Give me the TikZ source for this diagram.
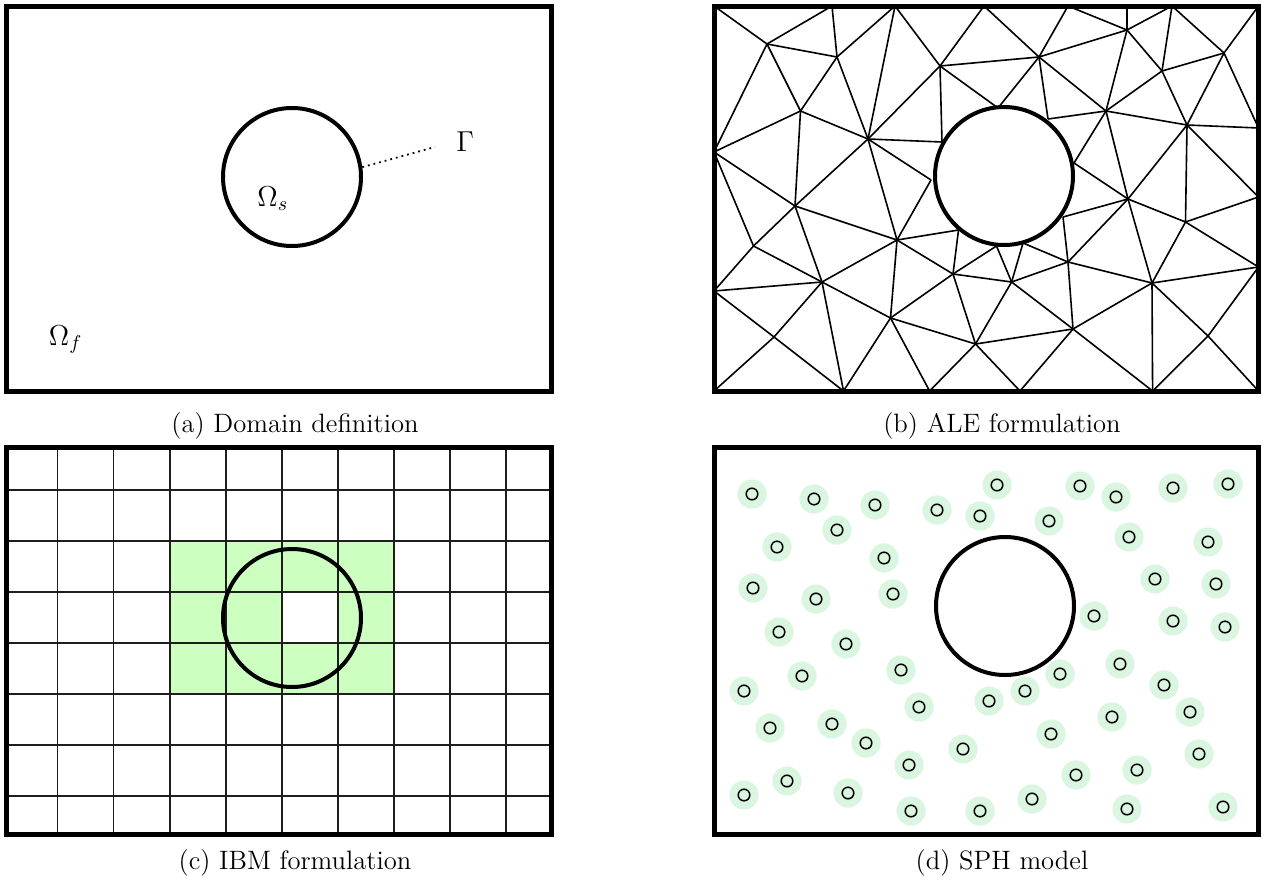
\documentclass[tikz,border=0pt]{standalone}
\usepackage{tikz}
\usetikzlibrary{calc}
\usepackage{amsmath}
\usepackage{xcolor}
\definecolor{ibmgreen}{HTML}{CCFFC0}
\definecolor{sphhalo}{HTML}{DAF6E0}
\definecolor{gridgray}{HTML}{1E1E1E}

\begin{document}
\begin{tikzpicture}[x=0.5pt, y=-0.5pt,
    domainbox/.style={draw=black, line width=2.5pt},
    solidbody/.style={circle, draw=black, line width=2pt, fill=white, minimum size=69pt, inner sep=0pt},
    meshline/.style={line width=0.8pt},
    gridline/.style={line width=0.9pt, color=gridgray},
    particle/.style={circle, draw=black, line width=0.75pt, minimum size=5.8pt, inner sep=0pt},
    subcap/.style={font=\fontsize{13.3}{16}\selectfont, anchor=base},
    symb/.style={font=\fontsize{14}{17}\selectfont, anchor=base west, inner sep=0pt}]
  \useasboundingbox (0,0) rectangle (1264,884);

  % (a)
  \draw[domainbox] (6,6) rectangle (551,391);
  \node[solidbody] (solida) at (292,177) {};
  \node[symb] (omegas) at (257,206.5) {$\Omega_s$};
  \node[symb] (omegaf) at (48.5,345) {$\Omega_f$};
  \node[symb] (gamma) at (456,151.5) {$\Gamma$};
  \coordinate (gtip) at (435,147);
  \draw[dotted, line width=0.9pt] (solida.8) -- (gtip);
  \node[subcap] (capa) at (295,432) {(a) Domain definition};

  % (b)
  \foreach \n/\x/\y in {TL/714/6, T1/832/6, T2/895/6, T3/984/6, T4/1068/6, T5/1127/6, T6/1172/6, TR/1258.5/6,
      M/714/152, LB/714/291, BL/714/391, B1/843.5/391, B2/929.6/391, B3/1020/391, B4/1152.6/391, BR/1258.5/391,
      L/1258.5/128, RBa/1258.5/197, RBb/1258.5/267,
      A/767/44, B/837/57, C/800.5/111, D/868/139, E/940/66, F/1039/57, G/1127/30, H/1162/71, I/1224/53,
      J/1106/111, K/1187/125, S/1128/199, U/795/206, X/753.5/246, W/897/240, Y/822/282, Z/953/274,
      AA/1011.6/282, BB/1068/262, V/1185.5/222, DD/1152/283, EE/890.5/318, FF/975.5/344, GG/1073/329,
      HH/774/337, II/1208/336,
      O/998/108, N/1048/119, R/1074/163, CC/1063/217, sthree/1023/243, stwo/996.5/246, sone/958.5/230,
      Q/931/180, P/942/142}
    \coordinate (\n) at (\x,\y);
  \foreach \a/\b in {TL/A, T1/A, T1/B, A/B, T2/B, T2/D, T2/E, A/C, A/M, B/C, B/D, C/M, C/D, C/U,
      T3/E, T3/F, E/F, E/D, E/P, E/O, F/O, T4/F, F/G, F/N, F/J, T4/G, G/T5, G/T6, G/H, G/J,
      T6/H, T6/I, I/TR, I/H, I/K, I/L, H/J, H/K, J/K, K/L, J/N, J/R, J/S, K/V, K/S, K/RBa,
      D/P, D/Q, D/U, D/W, M/X, M/U, X/U, X/LB, X/Y, U/Y, U/W, Q/W, W/sone, W/Y, W/Z, W/EE,
      sone/Z, stwo/Z, stwo/AA, sthree/AA, sthree/BB, CC/BB, CC/S, S/BB, S/DD, S/V, R/S,
      V/RBa, V/RBb, V/DD, BB/DD, BB/GG, BB/AA, Z/AA, Z/EE, Z/FF, AA/FF, AA/GG, DD/GG,
      DD/RBb, DD/B4, DD/II, RBb/II, II/B4, II/BR, Y/LB, Y/EE, Y/B1, Y/HH, LB/HH, HH/B1, HH/BL,
      EE/B1, EE/B2, EE/FF, FF/B2, FF/B3, GG/B3, GG/B4, GG/FF}
    \draw[meshline] (\a) -- (\b);
  \draw[domainbox] (714,6) rectangle (1258.5,391);
  \node[solidbody] (solidb) at (1004,176) {};
  \node[subcap] (capb) at (1002,432) {(b) ALE formulation};

  % (c)
  \fill[ibmgreen] (169.6,541) rectangle (394,694);
  \fill[white] (281.8,592) rectangle (337.9,643);
  \foreach \x in {57.4,113.5,169.6,225.7,281.8,337.9,394,450.1,506.2}
    \draw[gridline] (\x,447) -- (\x,834);
  \foreach \y in {490,541,592,643,694,745,796}
    \draw[gridline] (6,\y) -- (551,\y);
  \draw[domainbox] (6,447) rectangle (551,834);
  \node[solidbody, fill=none] (solidc) at (292,618) {};
  \node[subcap] (capc) at (295,869) {(c) IBM formulation};

  % (d)
  \foreach \x/\y [count=\k] in {752/494, 814/499, 875/505, 937/510, 997/485, 980/516, 1049/521, 1080/486,
      1116/497, 1173/488, 1228/484, 837/530, 777/547, 884/558, 1129/537, 1208/542,
      753/588, 816/599, 893/594, 1155/579, 1216/584, 1094/616, 1173/621, 1225/627,
      779/632, 846/644, 1120/664, 744/691, 802/676, 901/670, 1060/674, 1025/691, 989/701,
      919/707, 1164/685, 1190/712, 1112/717, 770/728, 832/724, 866/743, 1051/734, 963/749,
      909/765, 1199/754, 1076/775, 1137/770, 787/781, 848/793, 744/795, 1032/799,
      911/811, 980/811, 1127/809, 1223/807} {
    \fill[sphhalo] (\x,\y) circle (7.3pt);
    \node[particle] (p\k) at (\x,\y) {};
  }
  \draw[domainbox] (714,447) rectangle (1258.5,834);
  \node[solidbody] (solidd) at (1005,606) {};
  \node[subcap] (capd) at (1002,869) {(d) SPH model};
\end{tikzpicture}
\end{document}
